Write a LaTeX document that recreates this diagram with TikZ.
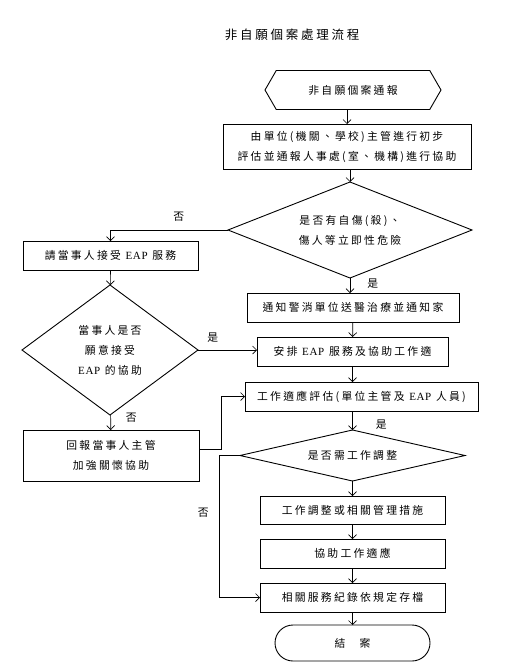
\documentclass[tikz,border=0pt]{standalone}
\usepackage{fontspec}
\setmainfont{Liberation Serif}
\newfontfamily\cjk[LetterSpace=21]{Noto Sans CJK TC}
\newfontfamily\cjktitre[LetterSpace=22]{Noto Sans CJK TC}
\newfontfamily\latin[LetterSpace=6]{Liberation Serif}
\newcommand\eap{{\latin\fontsize{11}{20}\selectfont EAP}}
\usetikzlibrary{shapes.geometric,shapes.misc,shapes.symbols,arrows.meta}

\begin{document}
\begin{tikzpicture}[
    x=1pt, y=-1pt,
    texte/.style={font={\cjk\fontsize{10.8}{20}\selectfont}},
    etape/.style={rectangle, draw, line width=0.9pt, inner sep=0pt, outer sep=0pt, align=center, texte},
    debut/.style={signal, signal to=west and east, signal pointer angle=120, draw, line width=0.9pt, inner sep=0pt, outer sep=0pt, texte},
    fin/.style={rounded rectangle, draw, line width=0.9pt, inner sep=0pt, outer sep=0pt, texte},
    decision/.style={diamond, draw, line width=0.9pt, inner sep=0pt, outer sep=0pt, align=center, texte},
    lbl/.style={inner sep=0pt, texte},
    fleche/.style={-{Straight Barb[length=4pt,width=8pt]}, line width=0.7pt}
]
\useasboundingbox (0,0) rectangle (505,672);

% Titre
\node[font={\cjktitre\fontsize{12.5}{14}\selectfont}] (titre) at (292,35) {非自願個案處理流程};

% Colonne de droite
\node[debut, minimum width=176pt, minimum height=39pt] (notif) at (353,90) {非自願個案通報};
\node[etape, minimum width=248pt, minimum height=45pt] (eval) at (347,146.5) {由單位(機關、學校)主管進行初步\\評估並通報人事處(室、機構)進行協助};
\node[decision, aspect=2.54, minimum width=244pt, minimum height=96pt] (danger) at (350,230) {是否有自傷(殺)、\\傷人等立即性危險};
\node[etape, minimum width=212pt, minimum height=29pt] (police) at (353,307.5) {通知警消單位送醫治療並通知家};
\node[etape, minimum width=191pt, minimum height=29pt] (arrange) at (352.5,351.5) {安排~\eap~服務及協助工作適};
\node[etape, minimum width=233pt, minimum height=29pt] (assess) at (361.5,396.5) {工作適應評估(單位主管及~\eap~人員)};
\node[decision, aspect=4.41, minimum width=225pt, minimum height=51pt] (adjust) at (352.5,455.5) {是否需工作調整};
\node[etape, minimum width=185pt, minimum height=28pt] (measure) at (352.5,510) {工作調整或相關管理措施};
\node[etape, minimum width=185pt, minimum height=29pt] (adapt) at (352.5,553.5) {協助工作適應};
\node[etape, minimum width=185pt, minimum height=29pt] (archive) at (352.5,597.5) {相關服務紀錄依規定存檔};
\node[fin, minimum width=155pt, minimum height=36pt] (close) at (352.5,643) {結\hspace{14pt}案};

% Colonne de gauche
\node[etape, minimum width=175pt, minimum height=29pt] (askeap) at (110.5,255.5) {請當事人接受~\eap~服務};
\node[decision, aspect=1.35, minimum width=176pt, minimum height=130pt] (willing) at (110,350) {當事人是否\\願意接受\\\eap~的協助};
\node[etape, minimum width=176pt, minimum height=51pt] (report) at (111,455.5) {回報當事人主管\\加強關懷協助};

% Fleches
\draw[fleche] (notif.south -| eval) -- (eval);
\draw[fleche] (eval.south -| danger) -- (danger);
\draw[fleche] (danger.west) -| node[lbl, pos=0.21, above=8pt] {否} (askeap);
\draw[fleche] (danger.south) -- node[lbl, pos=0.35, right=17pt] {是} (danger.south |- police.north);
\draw[fleche] (police) -- (arrange);
\draw[fleche] (arrange) -- (arrange |- assess.north);
\draw[fleche] (askeap) -- (willing);
\draw[fleche] (willing) -- node[lbl, pos=0.2, right=15pt] {否} (report);
\draw[fleche] (willing.east) -- node[lbl, pos=0.25, above=7pt] {是} (willing.east -| arrange.west);
\draw[fleche] ([yshift=6.5pt]report.east) -- ++(22,0) |- (assess);
\draw[fleche] (assess.south -| adjust) -- node[lbl, pos=0.74, right=23pt] {是} (adjust);
\draw[fleche] (adjust.west) -- ++(-21,0) |- node[lbl, pos=0.2, left=10pt] {否} (archive);
\draw[fleche] (adjust) -- (measure);
\draw[fleche] (measure) -- (adapt);
\draw[fleche] (adapt) -- (archive);
\draw[fleche] (archive) -- (close);

\end{tikzpicture}
\end{document}
